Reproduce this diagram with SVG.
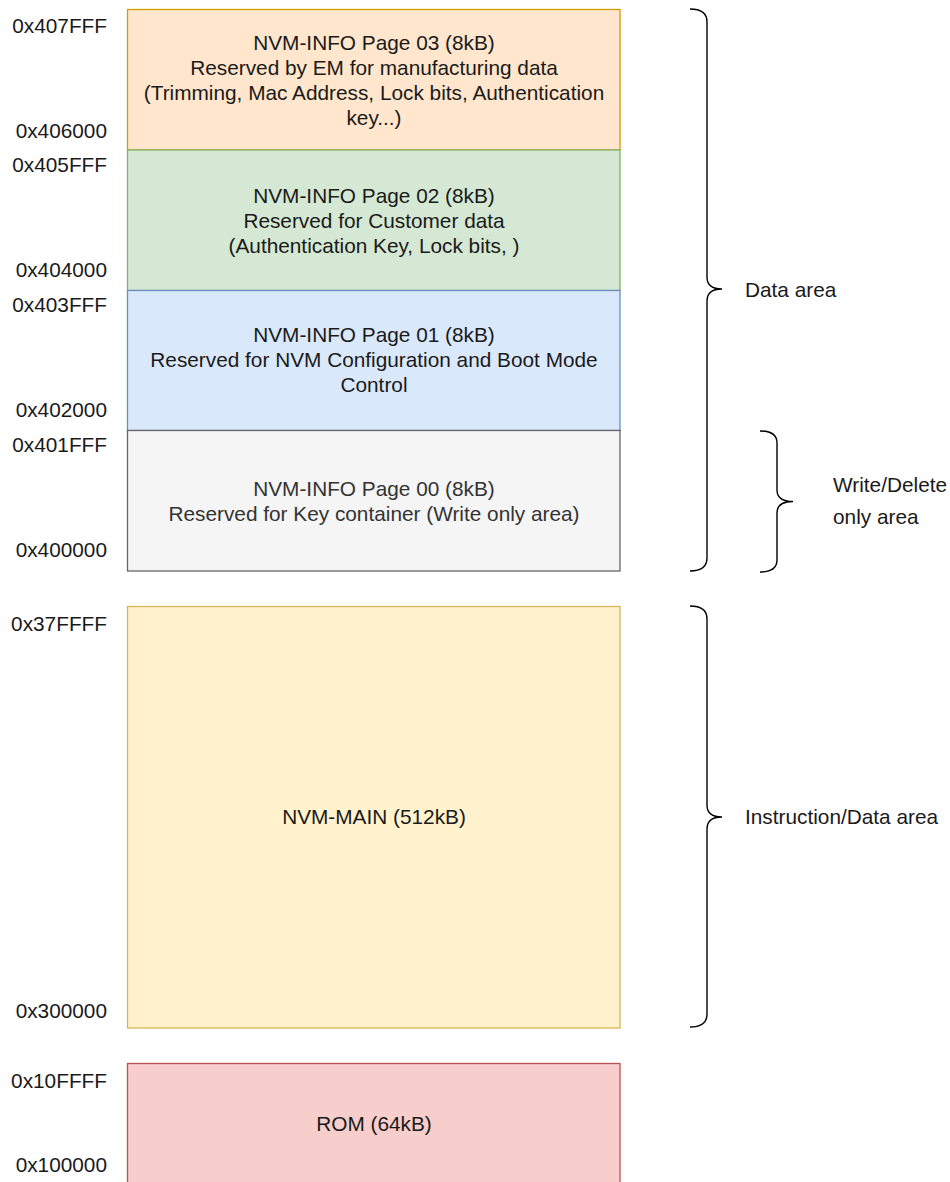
<svg xmlns="http://www.w3.org/2000/svg" width="950" height="1182" viewBox="0 0 950 1182">
<style>
text{font-family:"Liberation Sans",Arial,Helvetica,sans-serif;font-size:20.8px;fill:#1a1a1a}
.c{text-anchor:middle}
.a{text-anchor:end}
.box{stroke-width:1.3}
.brace{fill:none;stroke:#000;stroke-width:1.4}
</style>
<rect width="950" height="1182" fill="#fff"/>
<g id="page03">
<rect class="box" x="127.5" y="9.5" width="492.5" height="140.5" fill="#ffe6cc" stroke="#d79b00"/>
<text class="c" x="374" y="50">NVM-INFO Page 03 (8kB)</text>
<text class="c" x="374" y="75">Reserved by EM for manufacturing data</text>
<text class="c" x="374" y="100">(Trimming, Mac Address, Lock bits, Authentication</text>
<text class="c" x="374" y="125">key...)</text>
<text class="a" x="107" y="33">0x407FFF</text>
<text class="a" x="107" y="138">0x406000</text>
</g>
<g id="page02">
<rect class="box" x="127.5" y="150" width="492.5" height="140.5" fill="#d5e8d4" stroke="#82b366"/>
<text class="c" x="374" y="203">NVM-INFO Page 02 (8kB)</text>
<text class="c" x="374" y="228">Reserved for Customer data</text>
<text class="c" x="374" y="253">(Authentication Key, Lock bits, )</text>
<text class="a" x="107" y="172">0x405FFF</text>
<text class="a" x="107" y="277">0x404000</text>
</g>
<g id="page01">
<rect class="box" x="127.5" y="290.5" width="492.5" height="140" fill="#dae8fc" stroke="#6c8ebf"/>
<text class="c" x="374" y="342">NVM-INFO Page 01 (8kB)</text>
<text class="c" x="374" y="367">Reserved for NVM Configuration and Boot Mode</text>
<text class="c" x="374" y="392">Control</text>
<text class="a" x="107" y="312">0x403FFF</text>
<text class="a" x="107" y="417">0x402000</text>
</g>
<g id="page00">
<rect class="box" x="127.5" y="430.5" width="492.5" height="140.5" fill="#f5f5f5" stroke="#666666"/>
<text class="c" x="374" y="496" style="fill:#333333">NVM-INFO Page 00 (8kB)</text>
<text class="c" x="374" y="521" style="fill:#333333">Reserved for Key container (Write only area)</text>
<text class="a" x="107" y="452">0x401FFF</text>
<text class="a" x="107" y="557">0x400000</text>
</g>
<g id="nvmmain">
<rect class="box" x="127.5" y="606.5" width="492.5" height="421.5" fill="#fff2cc" stroke="#d6b656"/>
<text class="c" x="374" y="824">NVM-MAIN (512kB)</text>
<text class="a" x="107" y="631">0x37FFFF</text>
<text class="a" x="107" y="1018">0x300000</text>
</g>
<g id="rom">
<rect class="box" x="127.5" y="1063.5" width="492.5" height="130" fill="#f8cecc" stroke="#b85450"/>
<text class="c" x="374" y="1131">ROM (64kB)</text>
<text class="a" x="107" y="1088">0x10FFFF</text>
<text class="a" x="107" y="1172">0x100000</text>
</g>
<g id="braces">
<path class="brace" d="M690,9 Q707,9 707,22 L707,277 Q707,289 722,289 Q707,289 707,301 L707,558 Q707,571 690,571"/>
<path class="brace" d="M760,431 Q777,431 777,443 L777,490 Q777,501.5 793,501.5 Q777,501.5 777,513 L777,560 Q777,572 760,572"/>
<path class="brace" d="M690,606 Q707,606 707,619 L707,805 Q707,817 722,817 Q707,817 707,829 L707,1014 Q707,1027 690,1027"/>
</g>
<g id="labels">
<text x="745" y="297">Data area</text>
<text x="833" y="492">Write/Delete</text>
<text x="833" y="524">only area</text>
<text x="745" y="824">Instruction/Data area</text>
</g>
</svg>
